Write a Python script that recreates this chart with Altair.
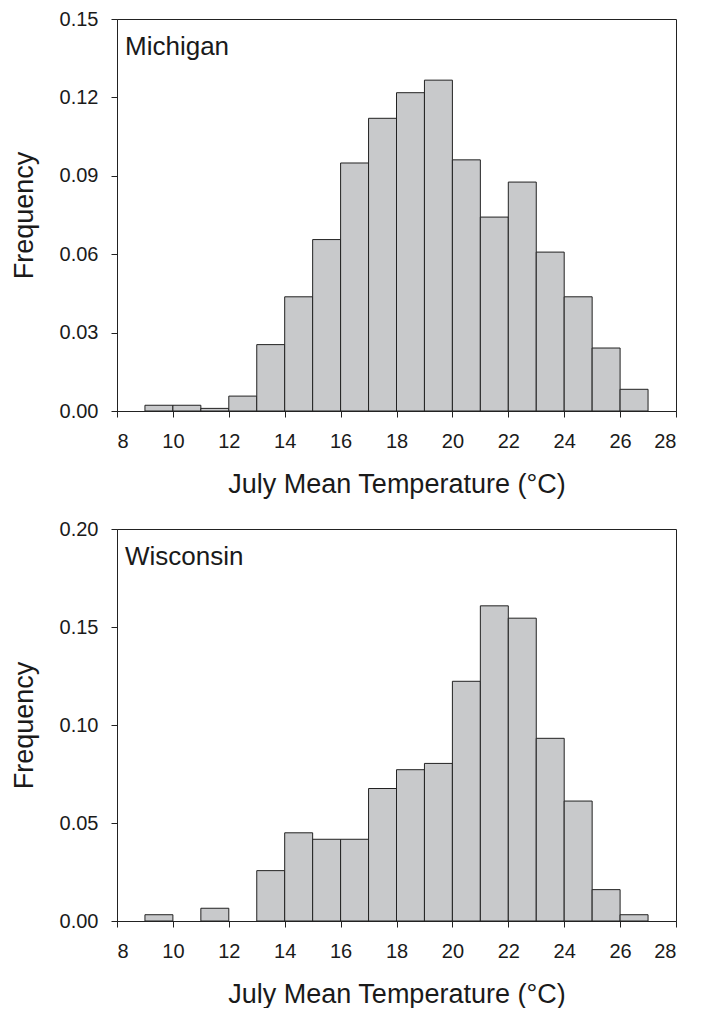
import altair as alt
import pandas as pd

bin_start = list(range(9, 27))
michigan = [0.0022, 0.0022, 0.0010, 0.0057, 0.0254, 0.0437, 0.0656, 0.0949, 0.1120,
            0.1218, 0.1266, 0.0961, 0.0742, 0.0876, 0.0608, 0.0437, 0.0241, 0.0083]
wisconsin = [0.0032, 0.0, 0.0065, 0.0, 0.0257, 0.0450, 0.0417, 0.0417, 0.0676,
             0.0772, 0.0804, 0.1223, 0.1608, 0.1545, 0.0932, 0.0612, 0.0160, 0.0032]
x_ticks = list(range(8, 29, 2))
mi_ticks = [0.0, 0.03, 0.06, 0.09, 0.12, 0.15]
wi_ticks = [0.0, 0.05, 0.10, 0.15, 0.20]

FONT = "Liberation Sans"
W, H = 559, 392


def panel(name, values, ymax, yticks):
    df = pd.DataFrame({"start": bin_start,
                       "end": [s + 1 for s in bin_start],
                       "freq": values})
    bars = alt.Chart(df).transform_filter("datum.freq > 0").mark_bar(
        fill="#c8c9cb", stroke="#222222", strokeWidth=1
    ).encode(
        x=alt.X("start:Q", scale=alt.Scale(domain=[8, 28], nice=False, zero=False),
                axis=alt.Axis(values=x_ticks, title="July Mean Temperature (\u00b0C)",
                              format="d", labelPadding=14, titlePadding=20)),
        x2="end:Q",
        y=alt.Y("freq:Q", scale=alt.Scale(domain=[0, ymax], nice=False),
                axis=alt.Axis(values=yticks, format=".2f", title="Frequency",
                              labelPadding=13, titlePadding=21)),
        y2=alt.datum(0),
    )
    label = alt.Chart(pd.DataFrame({"name": [name]})).mark_text(
        align="left", baseline="alphabetic", font=FONT, fontSize=26, color="#1a1a1a"
    ).encode(x=alt.value(8), y=alt.value(36), text="name:N")
    return alt.layer(bars, label).properties(width=W, height=H)


chart = alt.vconcat(
    panel("Michigan", michigan, 0.15, mi_ticks),
    panel("Wisconsin", wisconsin, 0.20, wi_ticks),
    spacing=20,
).properties(
    padding={"left": 1, "top": 0, "right": 5, "bottom": 0}
).configure_view(
    stroke="#222222", strokeWidth=1
).configure_axis(
    grid=False, domainColor="#222222", tickColor="#222222", tickSize=6,
    labelFont=FONT, labelFontSize=20, labelColor="#1a1a1a",
    titleFont=FONT, titleFontSize=27, titleFontWeight="normal", titleColor="#1a1a1a",
)

chart.save("out.html", embed_options={"renderer": "svg", "actions": False})
